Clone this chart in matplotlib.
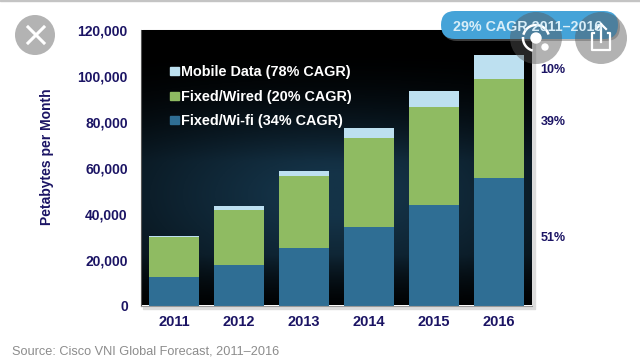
import numpy as np
from matplotlib import pyplot as plt
from matplotlib.patches import Circle, FancyBboxPatch, Rectangle

years = ["2011", "2012", "2013", "2014", "2015", "2016"]
wifi = [12600, 17500, 24900, 34300, 43500, 55400]
wired = [17000, 24100, 31400, 38500, 42800, 43100]
mobile = [700, 1500, 2200, 4400, 7100, 10400]
legend_labels = ["Mobile Data (78% CAGR)", "Fixed/Wired (20% CAGR)", "Fixed/Wi-fi (34% CAGR)"]
share_labels = ["10%", "39%", "51%"]
y_ticks = [0, 20000, 40000, 60000, 80000, 100000, 120000]

W, H = 640, 363
NAVY = "#1b1464"
plt.rcParams["font.family"] = ["Liberation Sans", "DejaVu Sans"]
plt.rcParams["font.weight"] = "bold"

fig = plt.figure(figsize=(6.4, 3.63), dpi=100)

# soft shadow right and under the plot box
fig.add_artist(Rectangle((143 / W, 1 - 309 / H), 392 / W, 279 / H, color="#dcdcdc",
                         transform=fig.transFigure, zorder=-1))

ax = fig.add_axes([141 / W, 1 - 305.5 / H, 391 / W, 276 / H])

# dark background with the blue glow
yy, xx = np.mgrid[0:1:200j, 0:1:300j]
glow = np.clip(1.15 - np.hypot((xx - 0.5) / 0.85, (yy - 0.6) / 0.55), 0, 1)
fade = np.clip((yy - 0.08) / 0.4, 0, 1) * np.clip((1.02 - yy) / 0.2, 0, 1)
img = np.zeros((200, 300, 3))
img[..., 0] = 0.08 * glow * fade
img[..., 1] = 0.2 * glow * fade
img[..., 2] = 0.28 * glow * fade
ax.imshow(img, extent=[0, 1, 0, 1], transform=ax.transAxes, aspect="auto", zorder=0, origin="upper")

x = np.arange(len(years))
wifi_a = np.array(wifi)
wired_a = np.array(wired)
mobile_a = np.array(mobile)
ax.bar(x, wifi_a, 0.777, color="#2f6e94", zorder=2)
ax.bar(x, wired_a, 0.777, bottom=wifi_a, color="#8fbb62", zorder=2)
ax.bar(x, mobile_a, 0.777, bottom=wifi_a + wired_a, color="#bde0f0", zorder=2)

ax.set_xlim(-0.508, 5.508)
ax.set_ylim(0, 120000)
ax.set_xticks(x)
ax.set_xticklabels(years, fontsize=10.5, color=NAVY)
ax.set_yticks(y_ticks)
ax.set_yticklabels([f"{v:,}" for v in y_ticks], fontsize=10, color=NAVY)
ax.tick_params(length=0, pad=9.5, axis="y")
ax.tick_params(length=0, pad=7, axis="x")
for s in ax.spines.values():
    s.set_visible(False)
ax.spines["bottom"].set_visible(True)
ax.spines["bottom"].set_color("#999999")
ax.spines["left"].set_visible(True)
ax.spines["left"].set_color("#555555")

fig.text(47 / W, 1 - 157 / H, "Petabytes per Month", rotation=90, fontsize=10, color=NAVY,
         ha="center", va="center")
fig.text(12 / W, 1 - 352 / H, "Source: Cisco VNI Global Forecast, 2011–2016", fontsize=9.15,
         color="#8c8c8c", weight="normal", va="center")

# legend written by hand, squares and labels
legend_colors = ["#bde0f0", "#8fbb62", "#2f6e94"]
for label, color, py in zip(legend_labels, legend_colors, [71, 96, 120]):
    fig.add_artist(Rectangle((170 / W, 1 - (py + 4) / H), 8.5 / W, 8 / H, color=color,
                             transform=fig.transFigure))
    fig.text(181 / W, 1 - (py + 1) / H, label, fontsize=10.4, color="white", va="center")

for label, py in zip(share_labels, [70, 122, 238]):
    fig.text(553 / W, 1 - py / H, label, fontsize=9, color=NAVY, ha="center", va="center")

# screenshot overlays: pill and round buttons, in pixel coords
over = fig.add_axes([0, 0, 1, 1], facecolor="none")
over.set_xlim(0, W)
over.set_ylim(H, 0)
over.axis("off")
over.add_patch(Rectangle((0, 0), W, 1.2, color="#c4c4c4"))
over.add_patch(FancyBboxPatch((443, 13), 177, 28, boxstyle="round,pad=0,rounding_size=14",
                              color="#777777", alpha=0.5, lw=0))
over.add_patch(FancyBboxPatch((441, 11), 177, 28, boxstyle="round,pad=0,rounding_size=14",
                              color="#45a3d8", lw=0))
over.text(528, 27, "29% CAGR 2011–2016", fontsize=10.3, color="#d9eef8", ha="center", va="center")
over.add_patch(Circle((35, 35), 20, color="#b3b3b3", lw=0))
over.plot([28, 44], [27, 43], color="white", lw=2.2)
over.plot([28, 44], [43, 27], color="white", lw=2.2)
over.add_patch(Circle((536, 38), 26, color="#555555", alpha=0.45, lw=0))
over.add_patch(Circle((601, 38), 26, color="#555555", alpha=0.45, lw=0))
over.add_patch(Circle((536, 38), 5, color="white"))
over.add_patch(Circle((545, 47), 3, color="white"))
t = np.radians(np.arange(200, 340))
over.plot(536 + 13 * np.cos(t), 38 + 13 * np.sin(t), color="white", lw=1.8)
t = np.radians(np.arange(110, 180))
over.plot(536 + 13 * np.cos(t), 38 + 13 * np.sin(t), color="white", lw=1.8)
over.plot([594, 592, 592, 610, 610, 608], [33, 33, 50, 50, 33, 33], color="white", lw=1.6)
over.plot([601, 601], [24, 42], color="white", lw=1.6)
over.plot([596, 601, 606], [29, 24, 29], color="white", lw=1.6)

fig.savefig("out.png", dpi=100)
